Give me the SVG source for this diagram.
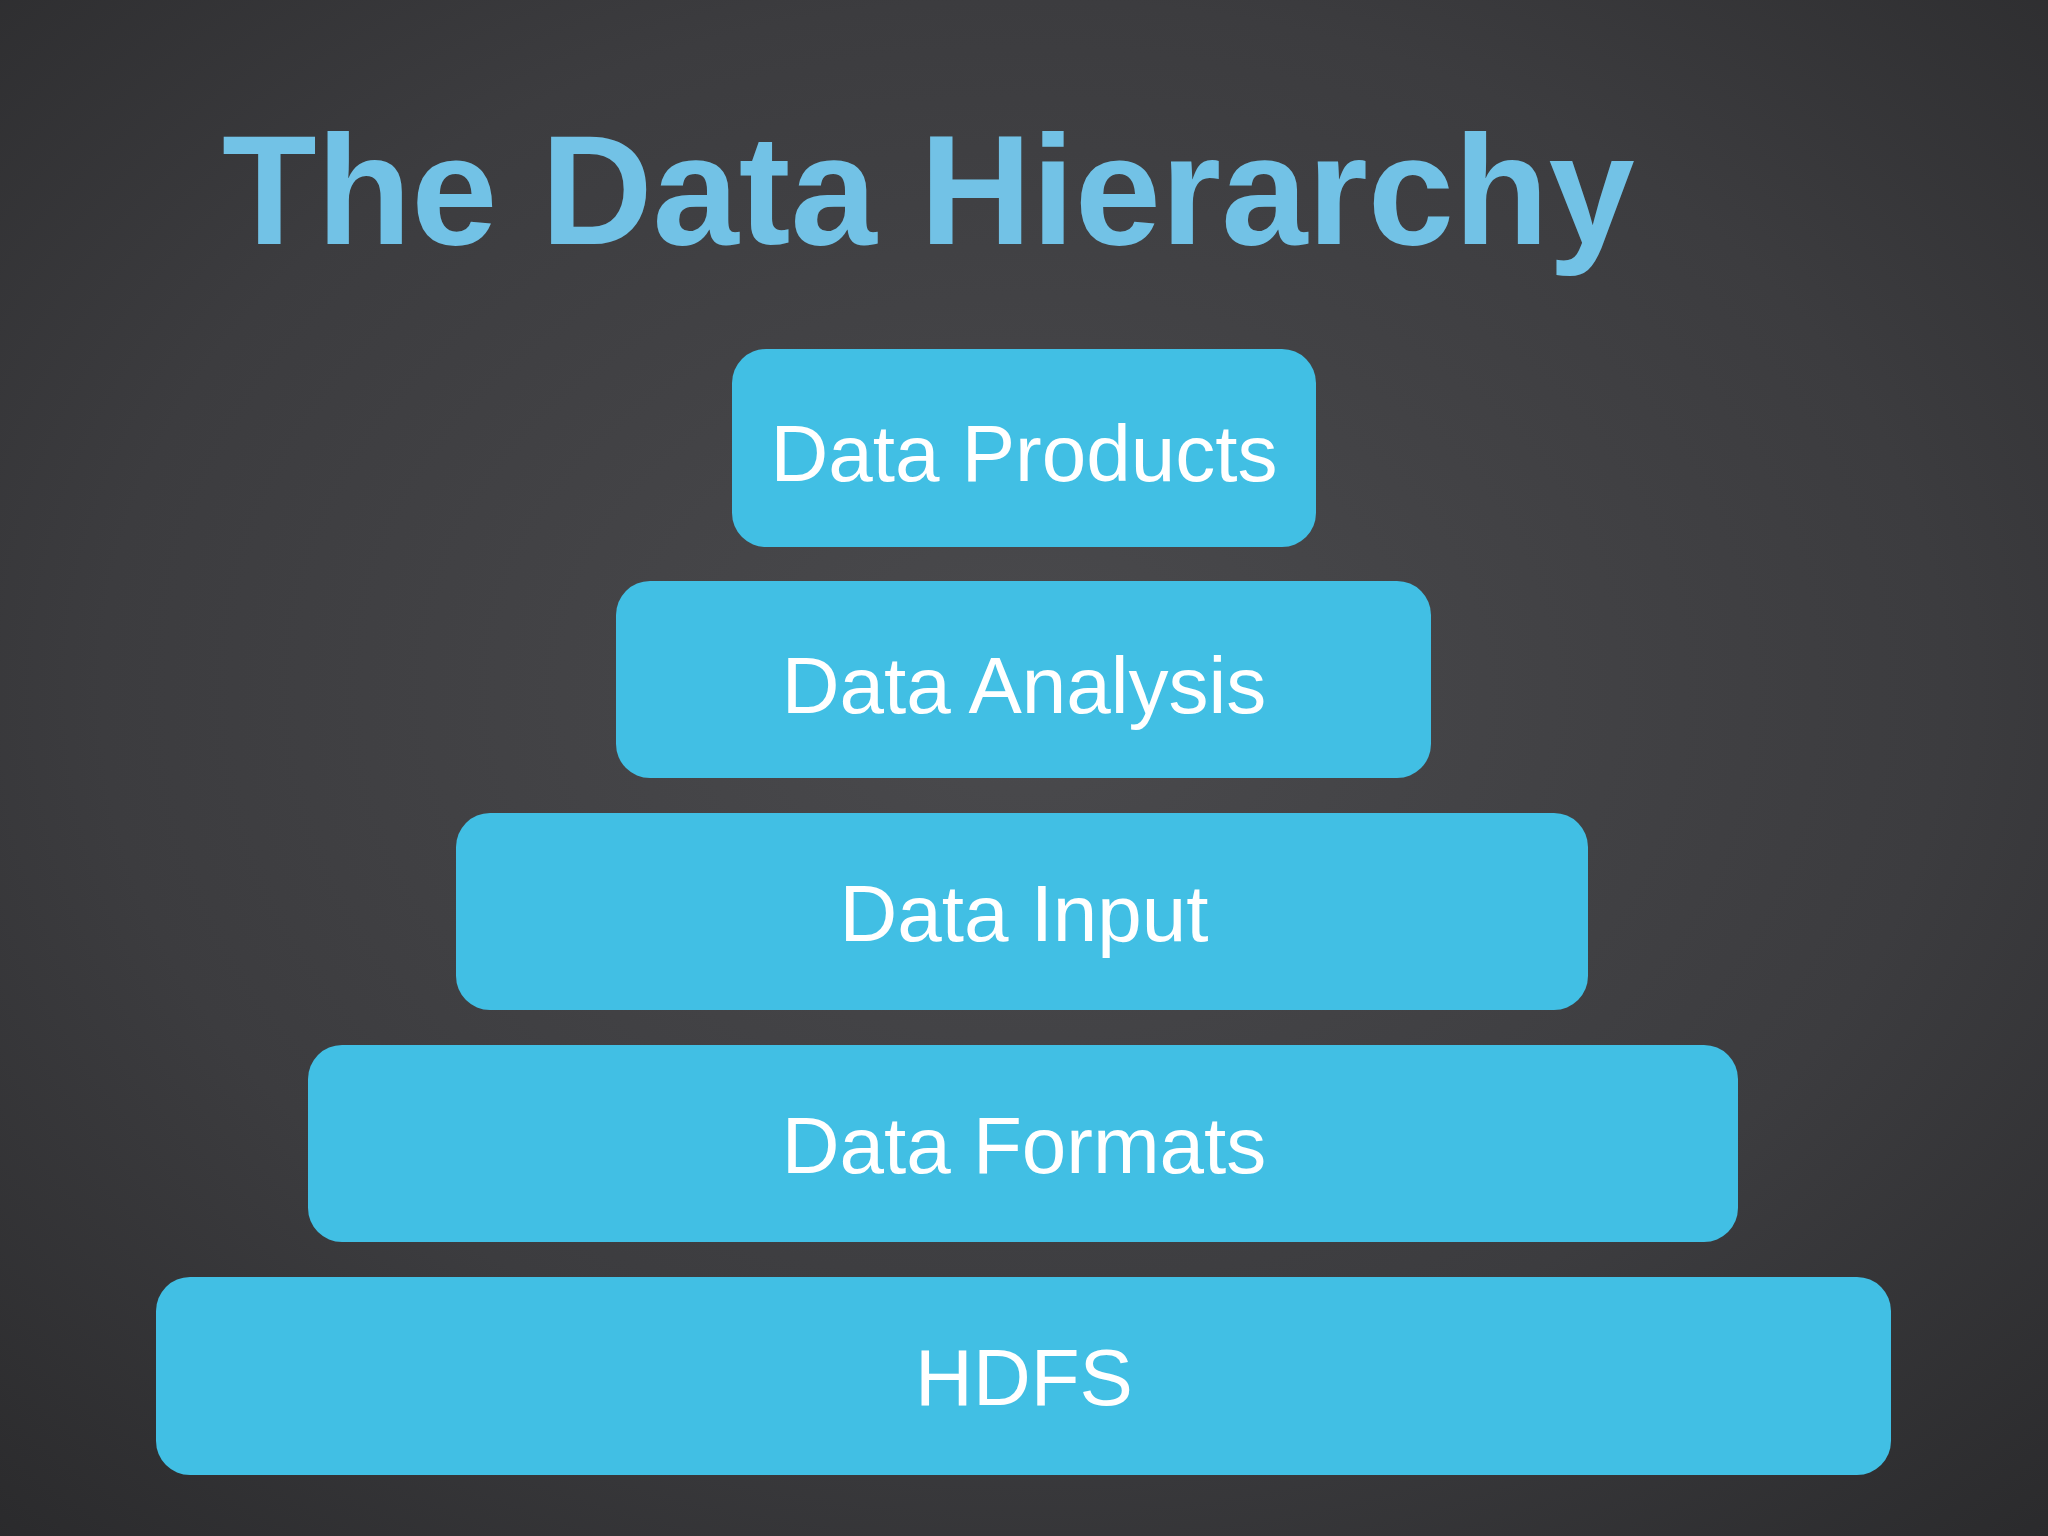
<svg xmlns="http://www.w3.org/2000/svg" width="2048" height="1536" viewBox="0 0 2048 1536">
<defs>
<radialGradient id="bg" cx="0.5" cy="0.45" r="0.75">
<stop offset="0" stop-color="#4a4a4d"/>
<stop offset="0.6" stop-color="#3c3c3f"/>
<stop offset="1" stop-color="#2a2a2c"/>
</radialGradient>
<style>
.box{fill:#41bfe4;}
.lbl{font-family:"Liberation Sans",Arial,Helvetica,sans-serif;font-size:80px;fill:#ffffff;text-anchor:middle;}
.title{font-family:"Liberation Sans",Arial,Helvetica,sans-serif;font-size:155px;font-weight:bold;fill:#72c2e6;}
</style>
</defs>
<rect x="0" y="0" width="2048" height="1536" fill="url(#bg)"/>
<text class="title" x="222" y="244">The Data Hierarchy</text>
<g id="node-data-products">
<rect class="box" x="732" y="349" width="584" height="198" rx="34"/>
<text class="lbl" x="1024" y="481">Data Products</text>
</g>
<g id="node-data-analysis">
<rect class="box" x="616" y="581" width="815" height="197" rx="34"/>
<text class="lbl" x="1024" y="713">Data Analysis</text>
</g>
<g id="node-data-input">
<rect class="box" x="456" y="813" width="1132" height="197" rx="34"/>
<text class="lbl" x="1024" y="941">Data Input</text>
</g>
<g id="node-data-formats">
<rect class="box" x="308" y="1045" width="1430" height="197" rx="34"/>
<text class="lbl" x="1024" y="1173">Data Formats</text>
</g>
<g id="node-hdfs">
<rect class="box" x="156" y="1277" width="1735" height="198" rx="34"/>
<text class="lbl" x="1024" y="1405">HDFS</text>
</g>
<g id="connectors"></g>
</svg>
